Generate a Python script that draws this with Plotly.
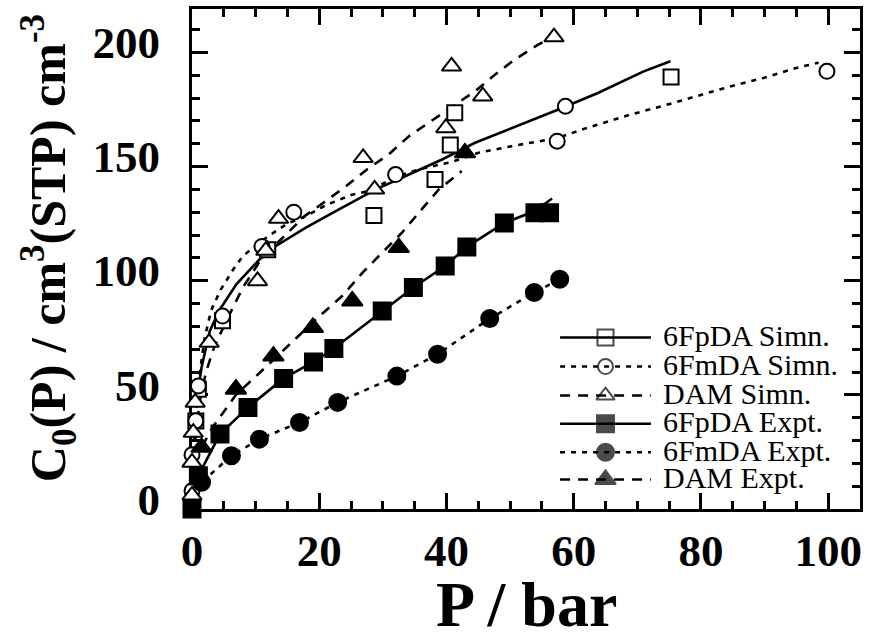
import plotly.graph_objects as go

# ---- 6FpDA, simulated (open squares) and fitted isotherm (solid) ----
p_6fpda_simn = [0.6, 1.0, 4.8, 11.9, 28.6, 38.2, 40.6, 41.3, 75.3]
c_6fpda_simn = [38.5, 52.5, 82.4, 113.5, 128.5, 144.3, 159.4, 173.6, 189.2]
p_6fpda_simn_fit = [0.6, 1.5, 2.8, 4.4, 7.0, 10.6, 13.2, 17.9, 23.1, 28.9, 34.1,
                    39.3, 44.5, 49.7, 54.4, 57.5, 63.8, 71.0, 75.2]
c_6fpda_simn_fit = [45.0, 62.0, 78.0, 87.5, 98.5, 109.3, 115.2, 123.2, 131.2, 140.0,
                    146.5, 153.1, 160.4, 166.2, 171.3, 174.9, 182.2, 191.7, 196.1]

# ---- 6FmDA, simulated (open circles) and fitted isotherm (dotted) ----
p_6fmda_simn = [0.0, 0.0, 0.6, 1.0, 4.8, 11.0, 16.0, 32.0, 57.4, 58.7, 99.8]
c_6fmda_simn = [8.0, 23.8, 38.6, 53.9, 84.5, 115.0, 130.0, 146.5, 161.1, 176.4, 191.7]
p_6fmda_simn_fit = [0.3, 1.0, 2.0, 3.0, 4.5, 6.5, 8.0, 9.6, 12.0, 15.0, 17.9, 21.0,
                    25.0, 28.0, 32.0, 36.0, 40.8, 45.0, 50.2, 54.4, 57.5, 61.7, 69.0,
                    74.2, 79.4, 84.6, 89.8, 95.0, 98.5]
c_6fmda_simn_fit = [30.0, 55.0, 75.0, 87.0, 96.0, 105.0, 110.8, 114.5, 119.5, 125.0,
                    128.3, 133.0, 137.5, 139.5, 145.5, 149.0, 152.0, 156.0, 158.9,
                    161.1, 162.5, 166.6, 172.8, 176.7, 180.8, 185.1, 188.8, 193.2, 195.5]

# ---- DAM, simulated (open triangles) and fitted isotherm (dashed) ----
p_dam_simn = [0.0, 0.0, 0.2, 0.5, 2.7, 10.3, 11.6, 13.6, 26.9, 28.7, 39.9, 40.8, 45.7, 56.9]
c_dam_simn = [6.0, 20.4, 33.5, 46.7, 72.9, 99.9, 113.2, 127.2, 153.8, 140.0, 166.9,
              193.9, 180.8, 206.7]
p_dam_simn_fit = [0.2, 0.6, 1.2, 2.2, 3.5, 5.5, 8.0, 11.0, 14.8, 17.7, 21.0, 24.2,
                  27.5, 30.9, 34.1, 37.5, 41.0, 44.5, 47.6, 50.7, 54.4, 57.0]
c_dam_simn_fit = [15.0, 32.0, 47.0, 60.0, 71.0, 83.0, 97.0, 110.0, 120.3, 128.3, 134.8,
                  141.4, 148.7, 155.3, 163.3, 169.8, 176.5, 183.0, 190.2, 196.8, 203.4, 207.0]

# ---- 6FpDA, experiment (filled squares, solid) ----
p_6fpda_expt = [0.0, 1.0, 4.4, 8.8, 14.4, 19.1, 22.3, 29.9, 34.8, 39.8, 43.2, 49.1, 53.9, 56.2]
c_6fpda_expt = [0.0, 14.6, 32.8, 44.5, 57.2, 64.4, 70.3, 86.7, 97.0, 106.4, 114.8,
                125.3, 129.8, 129.8]
p_6fpda_expt_fit = [0.0, 1.0, 4.4, 8.8, 14.4, 19.1, 22.3, 29.9, 34.8, 39.8, 43.2, 49.1, 53.9, 56.6]
c_6fpda_expt_fit = [0.0, 14.6, 32.8, 44.5, 57.2, 64.4, 70.3, 86.7, 97.0, 106.4, 114.8,
                    125.3, 130.5, 136.0]

# ---- 6FmDA, experiment (filled circles, dotted) ----
p_6fmda_expt = [1.5, 6.2, 10.6, 16.9, 22.9, 32.2, 38.6, 46.8, 53.8, 57.8]
c_6fmda_expt = [11.7, 23.3, 30.6, 37.9, 46.7, 58.2, 67.8, 83.4, 94.8, 100.6]
p_6fmda_expt_fit = [0.3, 1.5, 6.2, 10.6, 16.9, 22.9, 32.2, 38.6, 46.8, 53.8, 57.8]
c_6fmda_expt_fit = [9.0, 11.7, 23.3, 30.6, 37.9, 46.7, 58.2, 67.8, 83.4, 94.8, 100.6]

# ---- DAM, experiment (filled triangles, dashed) ----
p_dam_expt = [1.5, 6.9, 12.8, 19.0, 25.2, 32.5, 42.9]
c_dam_expt = [27.0, 52.5, 67.0, 79.5, 91.1, 114.5, 156.0]
p_dam_expt_fit = [0.5, 1.5, 3.3, 6.9, 10.0, 13.0, 16.4, 19.5, 23.6, 26.8, 29.9, 33.0,
                  36.1, 38.8, 42.4]
c_dam_expt_fit = [20.0, 27.0, 36.0, 50.0, 58.0, 66.0, 75.0, 83.1, 93.3, 103.5, 112.3,
                  121.0, 131.2, 140.0, 148.0]

series_names = ["6FpDA Simn.", "6FmDA Simn.", "DAM Simn.",
                "6FpDA Expt.", "6FmDA Expt.", "DAM Expt."]

FONT = "Liberation Serif, Times New Roman, serif"
SOLID, DOTTED, DASHED = "solid", "5px,6px", "10px,8px"

series = [
    (p_6fpda_simn, c_6fpda_simn, p_6fpda_simn_fit, c_6fpda_simn_fit, "square", "white", 15, SOLID),
    (p_6fmda_simn, c_6fmda_simn, p_6fmda_simn_fit, c_6fmda_simn_fit, "circle", "white", 15, DOTTED),
    (p_dam_simn, c_dam_simn, p_dam_simn_fit, c_dam_simn_fit, "triangle-up", "white", 17, DASHED),
    (p_6fpda_expt, c_6fpda_expt, p_6fpda_expt_fit, c_6fpda_expt_fit, "square", "black", 17, SOLID),
    (p_6fmda_expt, c_6fmda_expt, p_6fmda_expt_fit, c_6fmda_expt_fit, "circle", "black", 17, DOTTED),
    (p_dam_expt, c_dam_expt, p_dam_expt_fit, c_dam_expt_fit, "triangle-up", "black", 18, DASHED),
]

fig = go.Figure()

# isotherm curves first, so the symbols sit on top of them
for name, (px, py, fx, fy, sym, fill, size, dash) in zip(series_names, series):
    fig.add_trace(go.Scatter(x=fx, y=fy, mode="lines", name=name, showlegend=False,
                             line=dict(color="black", width=2.6, dash=dash),
                             cliponaxis=False, hoverinfo="skip"))
for name, (px, py, fx, fy, sym, fill, size, dash) in zip(series_names, series):
    fig.add_trace(go.Scatter(x=px, y=py, mode="markers", name=name, showlegend=False,
                             marker=dict(symbol=sym, size=size, color=fill,
                                         line=dict(color="black", width=2)),
                             cliponaxis=False))

# hand-built key in the lower right of the frame (overlay axis spans 0..1)
key_rows = [0.3429, 0.2849, 0.2269, 0.1703, 0.1136, 0.0590]
key_x0, key_xm, key_x1, key_text_x = 0.551, 0.619, 0.687, 0.702
for name, yk, (px, py, fx, fy, sym, fill, size, dash) in zip(series_names, key_rows, series):
    fig.add_shape(type="line", xref="paper", yref="paper", x0=key_x0, x1=key_x1,
                  y0=yk, y1=yk, line=dict(color="black", width=2.5, dash=dash))
    fig.add_annotation(xref="paper", yref="paper", x=key_text_x, y=yk + 0.004,
                       text=name, showarrow=False, xanchor="left", yanchor="middle",
                       font=dict(family=FONT, size=30, color="black"))
fig.add_trace(go.Scatter(
    x=[key_xm] * 6, y=key_rows, xaxis="x2", yaxis="y2", mode="markers",
    showlegend=False, hoverinfo="skip", cliponaxis=False,
    marker=dict(symbol=[s[4] for s in series], color=[s[5] for s in series],
                size=[16, 15, 16, 17, 17, 18], line=dict(color="black", width=2))))

axis_common = dict(showline=True, linewidth=3, linecolor="black", mirror="allticks",
                   ticks="inside", ticklen=16, tickwidth=2.5, tickcolor="black",
                   showgrid=False, zeroline=False, layer="below traces",
                   tickfont=dict(family=FONT, size=45, color="black", weight="bold"))

fig.update_layout(
    width=869, height=639,
    margin=dict(l=192, r=6, t=9, b=130),
    paper_bgcolor="white", plot_bgcolor="white",
    showlegend=False,
    xaxis=dict(range=[0, 105], tickmode="linear", tick0=0, dtick=20,
               minor=dict(dtick=5, ticklen=8, tickwidth=2.5, ticks="inside", tickcolor="black"),
               ticklabelstandoff=0, **axis_common),
    yaxis=dict(range=[0, 219], tickmode="linear", tick0=0, dtick=50,
               minor=dict(dtick=10, ticklen=8, tickwidth=2.5, ticks="inside", tickcolor="black"),
               ticklabelstandoff=20, ticklabelshift=-10, **axis_common),
    xaxis2=dict(overlaying="x", range=[0, 1], visible=False, anchor="y2"),
    yaxis2=dict(overlaying="y", range=[0, 1], visible=False, anchor="x2"),
)

fig.add_annotation(xref="paper", yref="paper", x=-0.2146, y=0.521, textangle=-90,
                   text="C<sub>0</sub>(P) / cm<sup>3</sup>(STP) cm<sup>-3</sup>",
                   showarrow=False, xanchor="center", yanchor="middle",
                   font=dict(family=FONT, size=50, color="black", weight="bold"))
fig.add_annotation(xref="paper", yref="paper", x=0.5, y=-0.191, text="P / bar",
                   showarrow=False, xanchor="center", yanchor="middle",
                   font=dict(family=FONT, size=64, color="black", weight="bold"))

fig.write_html("out.html")
